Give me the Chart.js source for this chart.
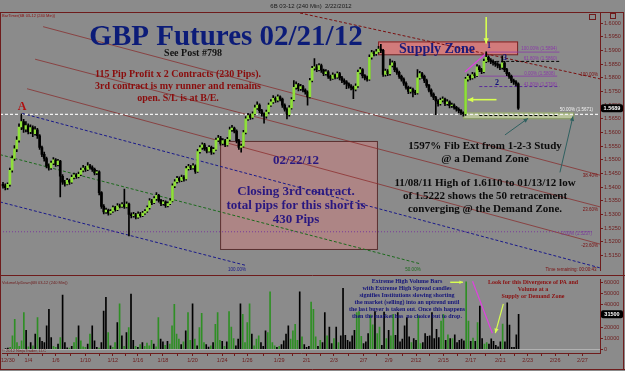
<!DOCTYPE html>
<html>
<head>
<meta charset="utf-8">
<script src="https://cdn.jsdelivr.net/npm/chart.js@4.4.0/dist/chart.umd.min.js"></script>
<style>
  html, body { margin: 0; padding: 0; background: #8b8b8b; }
  #wrap { position: relative; width: 625px; height: 371px; overflow: hidden; background: #8b8b8b; }
  #priceCanvas { position: absolute; left: 0; top: 0; }
  #volCanvas { position: absolute; left: 0; top: 275px; }
</style>
</head>
<body>
<div id="wrap">
  <canvas id="priceCanvas" width="625" height="275"></canvas>
  <canvas id="volCanvas" width="625" height="96"></canvas>
</div>
<script>
// 6B 03-12, 240 min bars, 12/30/2011 - 2/22/2012
const opens = [
  1.5410, 1.5405, 1.5398, 1.5410, 1.5462, 1.5505, 1.5540, 1.5572, 1.5620, 1.5640,
  1.5612, 1.5625, 1.5603, 1.5618, 1.5596, 1.5610, 1.5588, 1.5545, 1.5520, 1.5505,
  1.5478, 1.5470, 1.5488, 1.5500, 1.5482, 1.5495, 1.5440, 1.5418, 1.5412, 1.5425,
  1.5418, 1.5436, 1.5445, 1.5438, 1.5447, 1.5462, 1.5470, 1.5465, 1.5478, 1.5472,
  1.5465, 1.5452, 1.5456, 1.5380, 1.5330, 1.5310, 1.5316, 1.5305, 1.5312, 1.5325,
  1.5318, 1.5332, 1.5330, 1.5336, 1.5328, 1.5338, 1.5300, 1.5296, 1.5300, 1.5290,
  1.5302, 1.5296, 1.5305, 1.5312, 1.5325, 1.5350, 1.5343, 1.5358, 1.5370, 1.5352,
  1.5340, 1.5346, 1.5332, 1.5340, 1.5350, 1.5405, 1.5420, 1.5432, 1.5425, 1.5436,
  1.5430, 1.5468, 1.5475, 1.5470, 1.5478, 1.5458, 1.5530, 1.5545, 1.5555, 1.5540,
  1.5532, 1.5546, 1.5528, 1.5538, 1.5572, 1.5580, 1.5560, 1.5570, 1.5555, 1.5575,
  1.5610, 1.5616, 1.5605, 1.5570, 1.5545, 1.5550, 1.5600, 1.5650, 1.5662, 1.5655,
  1.5668, 1.5690, 1.5700, 1.5680, 1.5668, 1.5660, 1.5675, 1.5700, 1.5712, 1.5725,
  1.5718, 1.5730, 1.5722, 1.5700, 1.5685, 1.5665, 1.5690, 1.5720, 1.5765, 1.5775,
  1.5760, 1.5768, 1.5755, 1.5748, 1.5730, 1.5790, 1.5835, 1.5840, 1.5830, 1.5845,
  1.5828, 1.5815, 1.5822, 1.5805, 1.5798, 1.5810, 1.5802, 1.5815, 1.5800, 1.5790,
  1.5785, 1.5778, 1.5770, 1.5765, 1.5758, 1.5770, 1.5820, 1.5830, 1.5808, 1.5800,
  1.5795, 1.5875, 1.5892, 1.5888, 1.5895, 1.5905, 1.5900, 1.5812, 1.5825, 1.5815,
  1.5845, 1.5855, 1.5830, 1.5820, 1.5805, 1.5795, 1.5780, 1.5765, 1.5750, 1.5758,
  1.5748, 1.5745, 1.5800, 1.5815, 1.5805, 1.5790, 1.5772, 1.5755, 1.5740, 1.5728,
  1.5715, 1.5705, 1.5718, 1.5722, 1.5705, 1.5712, 1.5698, 1.5700, 1.5692, 1.5685,
  1.5680, 1.5672, 1.5668, 1.5795, 1.5805, 1.5800, 1.5812, 1.5808, 1.5840, 1.5830,
  1.5822, 1.5860, 1.5875, 1.5865, 1.5860, 1.5855, 1.5850, 1.5845, 1.5838, 1.5855,
  1.5830, 1.5815, 1.5805, 1.5790, 1.5785, 1.5778
];
const highs = [
  1.5418, 1.5412, 1.5416, 1.5470, 1.5515, 1.5552, 1.5585, 1.5632, 1.5668, 1.5648,
  1.5640, 1.5632, 1.5628, 1.5624, 1.5622, 1.5615, 1.5592, 1.5550, 1.5528, 1.5510,
  1.5485, 1.5495, 1.5508, 1.5505, 1.5502, 1.5498, 1.5446, 1.5425, 1.5432, 1.5430,
  1.5444, 1.5452, 1.5450, 1.5455, 1.5470, 1.5480, 1.5476, 1.5490, 1.5484, 1.5478,
  1.5470, 1.5462, 1.5460, 1.5384, 1.5336, 1.5324, 1.5320, 1.5318, 1.5332, 1.5330,
  1.5340, 1.5338, 1.5344, 1.5393, 1.5346, 1.5342, 1.5306, 1.5308, 1.5304, 1.5310,
  1.5308, 1.5312, 1.5318, 1.5332, 1.5358, 1.5356, 1.5366, 1.5380, 1.5374, 1.5356,
  1.5352, 1.5350, 1.5346, 1.5358, 1.5412, 1.5428, 1.5440, 1.5438, 1.5444, 1.5442,
  1.5476, 1.5484, 1.5480, 1.5486, 1.5482, 1.5538, 1.5552, 1.5562, 1.5560, 1.5546,
  1.5552, 1.5550, 1.5545, 1.5580, 1.5590, 1.5586, 1.5578, 1.5575, 1.5582, 1.5620,
  1.5626, 1.5620, 1.5610, 1.5575, 1.5558, 1.5608, 1.5658, 1.5670, 1.5668, 1.5676,
  1.5700, 1.5712, 1.5705, 1.5685, 1.5672, 1.5682, 1.5708, 1.5720, 1.5735, 1.5730,
  1.5738, 1.5734, 1.5726, 1.5705, 1.5690, 1.5698, 1.5728, 1.5790, 1.5785, 1.5780,
  1.5776, 1.5772, 1.5760, 1.5752, 1.5798, 1.5842, 1.5870, 1.5848, 1.5852, 1.5850,
  1.5832, 1.5830, 1.5826, 1.5810, 1.5818, 1.5814, 1.5822, 1.5820, 1.5805, 1.5796,
  1.5790, 1.5782, 1.5775, 1.5770, 1.5778, 1.5828, 1.5838, 1.5834, 1.5812, 1.5806,
  1.5884, 1.5900, 1.5898, 1.5904, 1.5915, 1.5922, 1.5904, 1.5832, 1.5830, 1.5868,
  1.5862, 1.5860, 1.5836, 1.5825, 1.5810, 1.5800, 1.5785, 1.5770, 1.5766, 1.5762,
  1.5754, 1.5830, 1.5824, 1.5820, 1.5810, 1.5795, 1.5776, 1.5760, 1.5745, 1.5732,
  1.5720, 1.5726, 1.5730, 1.5726, 1.5720, 1.5716, 1.5708, 1.5705, 1.5696, 1.5690,
  1.5684, 1.5676, 1.5802, 1.5814, 1.5810, 1.5820, 1.5818, 1.5848, 1.5845, 1.5835,
  1.5868, 1.5895, 1.5880, 1.5870, 1.5866, 1.5860, 1.5856, 1.5850, 1.5880, 1.5860,
  1.5835, 1.5820, 1.5810, 1.5795, 1.5790, 1.5782
];
const lows = [
  1.5396, 1.5390, 1.5392, 1.5404, 1.5455, 1.5498, 1.5530, 1.5565, 1.5610, 1.5600,
  1.5602, 1.5595, 1.5596, 1.5585, 1.5590, 1.5578, 1.5538, 1.5512, 1.5495, 1.5470,
  1.5462, 1.5465, 1.5482, 1.5476, 1.5478, 1.5364, 1.5410, 1.5404, 1.5408, 1.5410,
  1.5414, 1.5430, 1.5432, 1.5434, 1.5442, 1.5456, 1.5458, 1.5460, 1.5466, 1.5458,
  1.5445, 1.5446, 1.5372, 1.5322, 1.5302, 1.5304, 1.5298, 1.5300, 1.5308, 1.5312,
  1.5314, 1.5324, 1.5326, 1.5322, 1.5324, 1.5222, 1.5288, 1.5290, 1.5284, 1.5286,
  1.5290, 1.5292, 1.5300, 1.5308, 1.5320, 1.5336, 1.5340, 1.5352, 1.5345, 1.5332,
  1.5334, 1.5326, 1.5328, 1.5336, 1.5346, 1.5398, 1.5415, 1.5418, 1.5420, 1.5422,
  1.5426, 1.5462, 1.5464, 1.5466, 1.5450, 1.5454, 1.5524, 1.5538, 1.5534, 1.5525,
  1.5528, 1.5520, 1.5522, 1.5534, 1.5566, 1.5554, 1.5555, 1.5548, 1.5550, 1.5570,
  1.5604, 1.5598, 1.5562, 1.5538, 1.5528, 1.5546, 1.5595, 1.5644, 1.5648, 1.5650,
  1.5664, 1.5684, 1.5672, 1.5660, 1.5634, 1.5652, 1.5670, 1.5695, 1.5706, 1.5710,
  1.5712, 1.5715, 1.5692, 1.5678, 1.5650, 1.5660, 1.5685, 1.5715, 1.5758, 1.5752,
  1.5754, 1.5748, 1.5740, 1.5700, 1.5726, 1.5785, 1.5828, 1.5822, 1.5825, 1.5820,
  1.5808, 1.5810, 1.5798, 1.5790, 1.5794, 1.5796, 1.5798, 1.5792, 1.5782, 1.5776,
  1.5760, 1.5762, 1.5756, 1.5724, 1.5752, 1.5765, 1.5814, 1.5800, 1.5792, 1.5788,
  1.5790, 1.5868, 1.5880, 1.5882, 1.5890, 1.5892, 1.5805, 1.5806, 1.5808, 1.5810,
  1.5840, 1.5822, 1.5812, 1.5798, 1.5788, 1.5772, 1.5758, 1.5742, 1.5744, 1.5730,
  1.5738, 1.5740, 1.5795, 1.5798, 1.5782, 1.5765, 1.5748, 1.5732, 1.5720, 1.5665,
  1.5696, 1.5700, 1.5712, 1.5698, 1.5700, 1.5690, 1.5692, 1.5685, 1.5678, 1.5672,
  1.5665, 1.5660, 1.5662, 1.5788, 1.5792, 1.5795, 1.5800, 1.5804, 1.5822, 1.5815,
  1.5818, 1.5855, 1.5858, 1.5852, 1.5846, 1.5842, 1.5836, 1.5830, 1.5832, 1.5822,
  1.5808, 1.5798, 1.5782, 1.5776, 1.5770, 1.5684
];
const closes = [
  1.5405, 1.5398, 1.5410, 1.5462, 1.5505, 1.5540, 1.5572, 1.5620, 1.5640, 1.5612,
  1.5625, 1.5603, 1.5618, 1.5596, 1.5610, 1.5588, 1.5545, 1.5520, 1.5505, 1.5478,
  1.5470, 1.5488, 1.5500, 1.5482, 1.5495, 1.5440, 1.5418, 1.5412, 1.5425, 1.5418,
  1.5436, 1.5445, 1.5438, 1.5447, 1.5462, 1.5470, 1.5465, 1.5478, 1.5472, 1.5465,
  1.5452, 1.5456, 1.5380, 1.5330, 1.5310, 1.5316, 1.5305, 1.5312, 1.5325, 1.5318,
  1.5332, 1.5330, 1.5336, 1.5328, 1.5338, 1.5300, 1.5296, 1.5300, 1.5290, 1.5302,
  1.5296, 1.5305, 1.5312, 1.5325, 1.5350, 1.5343, 1.5358, 1.5370, 1.5352, 1.5340,
  1.5346, 1.5332, 1.5340, 1.5350, 1.5405, 1.5420, 1.5432, 1.5425, 1.5436, 1.5430,
  1.5468, 1.5475, 1.5470, 1.5478, 1.5458, 1.5530, 1.5545, 1.5555, 1.5540, 1.5532,
  1.5546, 1.5528, 1.5538, 1.5572, 1.5580, 1.5560, 1.5570, 1.5555, 1.5575, 1.5610,
  1.5616, 1.5605, 1.5570, 1.5545, 1.5550, 1.5600, 1.5650, 1.5662, 1.5655, 1.5668,
  1.5690, 1.5700, 1.5680, 1.5668, 1.5660, 1.5675, 1.5700, 1.5712, 1.5725, 1.5718,
  1.5730, 1.5722, 1.5700, 1.5685, 1.5665, 1.5690, 1.5720, 1.5765, 1.5775, 1.5760,
  1.5768, 1.5755, 1.5748, 1.5730, 1.5790, 1.5835, 1.5840, 1.5830, 1.5845, 1.5828,
  1.5815, 1.5822, 1.5805, 1.5798, 1.5810, 1.5802, 1.5815, 1.5800, 1.5790, 1.5785,
  1.5778, 1.5770, 1.5765, 1.5758, 1.5770, 1.5820, 1.5830, 1.5808, 1.5800, 1.5795,
  1.5875, 1.5892, 1.5888, 1.5895, 1.5905, 1.5900, 1.5812, 1.5825, 1.5815, 1.5845,
  1.5855, 1.5830, 1.5820, 1.5805, 1.5795, 1.5780, 1.5765, 1.5750, 1.5758, 1.5748,
  1.5745, 1.5800, 1.5815, 1.5805, 1.5790, 1.5772, 1.5755, 1.5740, 1.5728, 1.5715,
  1.5705, 1.5718, 1.5722, 1.5705, 1.5712, 1.5698, 1.5700, 1.5692, 1.5685, 1.5680,
  1.5672, 1.5668, 1.5795, 1.5805, 1.5800, 1.5812, 1.5808, 1.5840, 1.5830, 1.5822,
  1.5860, 1.5875, 1.5865, 1.5860, 1.5855, 1.5850, 1.5845, 1.5838, 1.5855, 1.5830,
  1.5815, 1.5805, 1.5790, 1.5785, 1.5778, 1.5689
];
const volumes = [
  400, 900, 1500, 12000, 27000, 6000, 2500, 7500, 33000, 17000,
  2000, 6000, 3000, 13500, 28500, 10500, 7000, 6000, 21000, 36000,
  10500, 2500, 1500, 4500, 10500, 49000, 6000, 1200, 800, 2500,
  6000, 10500, 21000, 7500, 2000, 1500, 4500, 13500, 21000, 7500,
  1500, 1000, 6000, 34500, 47000, 15000, 3000, 1500, 6000, 24000,
  41000, 12000, 2500, 15000, 19500, 50000, 8000, 2500, 1500, 4000,
  6000, 2500, 5500, 3000, 8000, 4500, 2000, 28500, 9000, 6500,
  3500, 7000, 4500, 21000, 40500, 13500, 9000, 4000, 6500, 16500,
  33000, 8000, 41000, 9000, 3000, 19500, 32400, 6000, 4000, 1800,
  3000, 6000, 22500, 33000, 8000, 7000, 2500, 6500, 34000, 20000,
  9500, 3000, 9000, 41000, 31500, 6000, 24000, 41000, 13500, 3000,
  9000, 12000, 6000, 2500, 16500, 15000, 52000, 6000, 3000, 1500,
  2500, 4000, 7500, 13500, 21000, 9000, 16500, 22500, 8000, 52000,
  11000, 4000, 1500, 2500, 42600, 36000, 11000, 2500, 8000, 6000,
  33000, 12000, 20000, 5000, 9500, 20000, 6000, 12000, 55000, 12500,
  8000, 6500, 12000, 17000, 33000, 34000, 11500, 5000, 6500, 14000,
  31000, 22000, 34000, 14000, 20000, 3500, 33500, 9500, 17000, 12000,
  31500, 12500, 33000, 6500, 9000, 21000, 28500, 11000, 6000, 9500,
  8000, 30000, 5000, 6000, 14000, 11500, 12000, 33000, 9500, 18000,
  10500, 25500, 31500, 8000, 13000, 9500, 9500, 13000, 6000, 8000,
  9000, 7500, 61000, 25500, 7000, 10000, 7000, 24000, 39000, 9500,
  4500, 6000, 4500, 9400, 7000, 3500, 2000, 6500, 22600, 6500,
  42000, 21800, 1500, 1500, 13000, 31500
];
// date labels on the time axis and the bar they sit under
const dateLabels = ['12/30', '1/4', '1/6', '1/10', '1/12', '1/16', '1/18', '1/20', '1/24', '1/26', '1/29',
  '2/1', '2/3', '2/7', '2/9', '2/12', '2/15', '2/17', '2/21', '2/23', '2/26', '2/27'];
const dateBars = [1, 10, 22, 35, 47, 58, 69, 82, 95, 106, 120, 132, 144, 157, 168, 180, 192, 204, 217, 229, 241, 253];
const priceTicks = [1.6000, 1.5950, 1.5900, 1.5850, 1.5800, 1.5750, 1.5700, 1.5650, 1.5600, 1.5550,
  1.5500, 1.5450, 1.5400, 1.5350, 1.5300, 1.5250, 1.5200, 1.5150];
const volumeTicks = [0, 10000, 20000, 30000, 40000, 50000, 60000];

const BG = '#8b8b8b';
const AXIS = '#6e1c1c';
const SERIF = '"Liberation Serif", "Times New Roman", serif';
const SANS = '"Liberation Sans", Arial, sans-serif';
const X_MIN = -1.31, X_MAX = 260.7;

// studies drawn on the price panel, in bar / price units
const trendLines = [
  { a: [129.7, 1.6037], b: [260.7, 1.5796], color: '#7a1010', w: 1, dash: [3, 2] },
  { a: [17.5, 1.5987], b: [260.7, 1.5444], color: '#882424', w: 0.7 },
  { a: [14.0, 1.5868], b: [260.7, 1.5328], color: '#882424', w: 0.7 },
  { a: [10.5, 1.5760], b: [260.7, 1.5192], color: '#882424', w: 0.7 },
  { a: [8.3, 1.5670], b: [260.7, 1.5105], color: '#1a1a8a', w: 1, dash: [3, 2] },
  { a: [-1.31, 1.5346], b: [106.5, 1.5113], color: '#1a1a8a', w: 1, dash: [3, 2] },
  { a: [-1.31, 1.5519], b: [182.1, 1.5120], color: '#1c6a1c', w: 1, dash: [3, 2] },
  { a: [-1.31, 1.5237], b: [258, 1.5237], color: '#7a3a9a', w: 1, dash: [1, 2] },
  { a: [-1.31, 1.5666], b: [260.7, 1.5666], color: '#f2f2f2', w: 1.2, dash: [3, 2] },
  { a: [211, 1.5894], b: [243, 1.5894], color: '#8a3aa8', w: 0.8 },
  { a: [211, 1.5860], b: [243, 1.5860], color: '#000000', w: 1, dash: [3, 2] },
  { a: [208, 1.5806], b: [242, 1.5806], color: '#8a3aa8', w: 0.8 },
  { a: [208, 1.5768], b: [243, 1.5768], color: '#5a2a9a', w: 1, dash: [3, 2] },
  { a: [208, 1.5662], b: [242, 1.5662], color: '#000000', w: 1, dash: [3, 2] },
  { a: [201.7, 1.5821], b: [210.5, 1.5886], color: '#e040e0', w: 1.2 }
];
const zones = [
  { a: [94.8, 1.5569], b: [163.3, 1.5174], fill: 'rgba(214,126,126,0.45)', line: '#5a3030' },
  { a: [163.8, 1.5933], b: [224.5, 1.5886], fill: 'rgba(222,120,120,0.85)', line: '#7a2020' },
  { a: [201, 1.5673], b: [249, 1.5652], fill: 'rgba(200,214,160,0.75)', line: '#8aa060' }
];
const arrows = [
  { a: [211, 1.6022], b: [211, 1.5925], color: '#d8ff50', w: 1.6, head: 6 },
  { a: [215.5, 1.5720], b: [203, 1.5720], color: '#d8ff50', w: 1.6, head: 6 },
  { a: [219.2, 1.5591], b: [229.3, 1.5652], color: '#2f6060', w: 1, head: 5 },
  { a: [243.2, 1.5454], b: [248.9, 1.5659], color: '#2f6060', w: 1, head: 5 }
];

function line(c, x0, y0, x1, y1, color, w, dash) {
  c.save();
  c.strokeStyle = color; c.lineWidth = w; c.setLineDash(dash || []);
  c.beginPath(); c.moveTo(x0, y0); c.lineTo(x1, y1); c.stroke();
  c.restore();
}
function arrow(c, x0, y0, x1, y1, color, w, head) {
  line(c, x0, y0, x1, y1, color, w);
  const ang = Math.atan2(y1 - y0, x1 - x0);
  c.save(); c.fillStyle = color;
  c.beginPath(); c.moveTo(x1, y1);
  c.lineTo(x1 - head * Math.cos(ang - 0.45), y1 - head * Math.sin(ang - 0.45));
  c.lineTo(x1 - head * Math.cos(ang + 0.45), y1 - head * Math.sin(ang + 0.45));
  c.closePath(); c.fill(); c.restore();
}
function text(c, s, x, y, font, color, align) {
  c.save();
  c.font = font; c.fillStyle = color; c.textAlign = align || 'center'; c.textBaseline = 'middle';
  c.fillText(s, x, y);
  c.restore();
}
function block(c, lines, cx, y0, lh, font, color) {
  lines.forEach((s, k) => text(c, s, cx, y0 + k * lh, font, color));
}

const priceNotes = {
  id: 'priceNotes',
  beforeDraw(chart) {
    const c = chart.ctx;
    c.save(); c.fillStyle = BG; c.fillRect(0, 0, chart.width, chart.height); c.restore();
  },
  beforeDatasetsDraw(chart) {
    const c = chart.ctx, ar = chart.chartArea;
    const X = v => chart.scales.x.getPixelForValue(v);
    const Y = v => chart.scales.y.getPixelForValue(v);
    c.save();
    c.beginPath(); c.rect(ar.left, ar.top, ar.right - ar.left, ar.bottom - ar.top); c.clip();
    zones.forEach(z => {
      const x0 = X(z.a[0]), y0 = Y(z.a[1]), x1 = X(z.b[0]), y1 = Y(z.b[1]);
      c.fillStyle = z.fill; c.fillRect(x0, y0, x1 - x0, y1 - y0);
      c.strokeStyle = z.line; c.lineWidth = 1; c.strokeRect(x0 + 0.5, y0 + 0.5, x1 - x0, y1 - y0);
    });
    trendLines.forEach(t => line(c, X(t.a[0]), Y(t.a[1]), X(t.b[0]), Y(t.b[1]), t.color, t.w, t.dash));
    c.restore();
  },
  afterDatasetsDraw(chart) {
    const c = chart.ctx;
    const X = v => chart.scales.x.getPixelForValue(v);
    const Y = v => chart.scales.y.getPixelForValue(v);
    arrows.forEach(a => arrow(c, X(a.a[0]), Y(a.a[1]), X(a.b[0]), Y(a.b[1]), a.color, a.w, a.head));

    text(c, 'GBP Futures 02/21/12', 226, 38, `bold 29px ${SERIF}`, '#0c1c78');
    text(c, 'See Post #798', 193, 53, `bold 10px ${SERIF}`, '#111111');
    block(c, ['115 Pip Profit x 2 Contracts (230 Pips).', '3rd contract is my runner and remains', 'open. S/L is at B/E.'],
      178, 74, 12, `bold 10px ${SERIF}`, '#8a0c0c');
    text(c, 'A', 22, 107, `bold 12px ${SERIF}`, '#b01010');
    text(c, '02/22/12', 296, 161, `bold 13px ${SERIF}`, '#2a1880');
    block(c, ['Closing 3rd contract.', 'total pips for this short is', '430 Pips'], 296, 192, 14, `bold 13px ${SERIF}`, '#2a1880');
    text(c, 'Supply Zone', 437, 49, `bold 14px ${SERIF}`, '#1a1a7a');
    block(c, ['1597% Fib Ext from 1-2-3 Study', '@ a Demand Zone'], 485, 146, 13, `bold 11px ${SERIF}`, '#0a0a0a');
    block(c, ['11/08/11 High of 1.6110 to 01/13/12 low', 'of 1.5222 shows the 50 retracement', 'converging @ the Demand Zone.'],
      485, 183, 13, `bold 11px ${SERIF}`, '#0a0a0a');
    text(c, '1', 489, 46, `bold 8px ${SERIF}`, '#10107a');
    text(c, '2', 497, 83, `bold 8px ${SERIF}`, '#10107a');
    text(c, '3', 505, 58, `bold 8px ${SERIF}`, '#10107a');

    const tiny = `4.5px ${SANS}`;
    text(c, '100.00% (1.5894)', 557, 49, tiny, '#8a3aa8', 'right');
    text(c, '61.80% (1.5860)', 557, 59, tiny, '#8a3aa8', 'right');
    text(c, '0.00% (1.5808)', 555, 74, tiny, '#8a3aa8', 'right');
    text(c, '41.80% (1.5768)', 557, 85, tiny, '#8a3aa8', 'right');
    text(c, '50.00% (1.5671)', 593, 110, tiny, '#f4f4f4', 'right');
    text(c, '100.00%', 598, 75, tiny, '#7a1010', 'right');
    text(c, '38.40%', 598, 176, tiny, '#7a1010', 'right');
    text(c, '23.60%', 598, 210, tiny, '#7a1010', 'right');
    text(c, '0.00% (1.5237)', 592, 234, tiny, '#7a3a9a', 'right');
    text(c, '-23.60%', 598, 246, tiny, '#7a1010', 'right');
    text(c, '100.00%', 237, 270, tiny, '#1a1a8a');
    text(c, '50.00%', 413, 270, tiny, '#1c6a1c');
    text(c, 'Time remaining: 00:00:43', 571, 270, tiny, '#7a1010');
  },
  afterDraw(chart) {
    const c = chart.ctx;
    text(c, '6B 03-12 (240 Min)  2/22/2012', 311, 6, `6px ${SANS}`, '#1a1a1a');
    text(c, 'BarTimer(6B 03-12 (240 Min))', 2, 16, `4px ${SANS}`, '#8a1010', 'left');
    c.save();
    c.strokeStyle = AXIS; c.lineWidth = 1;
    c.strokeRect(0.5, 12.5, 623, 300);
    c.strokeRect(589.5, 14.5, 6, 5);
    c.strokeRect(610.5, 13.5, 5, 5);
    c.restore();
    // last price tag on the axis
    const y = chart.scales.y.getPixelForValue(closes[closes.length - 1]);
    c.save();
    c.fillStyle = '#000'; c.beginPath();
    c.roundRect(601, y - 4, 22, 8, 2); c.fill();
    c.restore();
    text(c, closes[closes.length - 1].toFixed(4), 612, y, `bold 5.5px ${SANS}`, '#ffffff');
  }
};

const bodyColors = closes.map((v, i) => v >= opens[i] ? '#8fe03a' : '#000000');

new Chart(document.getElementById('priceCanvas'), {
  type: 'bar',
  data: {
    datasets: [
      {
        label: 'body',
        data: closes.map((v, i) => ({ x: i, y: [opens[i], v] })),
        backgroundColor: bodyColors,
        barThickness: 2, grouped: false, order: 0
      },
      {
        label: 'wick',
        data: highs.map((v, i) => ({ x: i, y: [lows[i], v] })),
        backgroundColor: '#000000',
        barThickness: 1, grouped: false, order: 1
      }
    ]
  },
  options: {
    responsive: false, animation: false, devicePixelRatio: 1,
    layout: { padding: { top: 12, left: 0, right: 0, bottom: 0 } },
    plugins: { legend: { display: false }, tooltip: { enabled: false } },
    scales: {
      x: { type: 'linear', min: X_MIN, max: X_MAX, offset: false, display: false },
      y: {
        position: 'right', min: 1.50946, max: 1.60406,
        afterBuildTicks(s) { s.ticks = priceTicks.map(v => ({ value: v })); },
        afterFit(s) { s.width = 25; },
        ticks: { callback: v => Number(v).toFixed(4), font: { size: 5.5, family: 'Arial' }, color: AXIS, padding: 1 },
        grid: { drawOnChartArea: false, drawTicks: true, tickLength: 3, color: AXIS },
        border: { display: true, color: AXIS }
      }
    }
  },
  plugins: [priceNotes]
});

const volNotes = {
  id: 'volNotes',
  beforeDraw(chart) {
    const c = chart.ctx;
    c.save(); c.fillStyle = BG; c.fillRect(0, 0, chart.width, chart.height); c.restore();
  },
  beforeDatasetsDraw(chart) {
    const c = chart.ctx, ar = chart.chartArea;
    const y0 = chart.scales.y.getPixelForValue(0);
    line(c, ar.left, y0 + 0.5, ar.right, y0 + 0.5, '#b4b4b4', 1);
  },
  afterDatasetsDraw(chart) {
    const c = chart.ctx;
    const X = v => chart.scales.x.getPixelForValue(v);
    const Y = v => chart.scales.y.getPixelForValue(v);
    line(c, X(204.8), Y(61500), X(213.5), Y(14300), '#e040e0', 1.2);
    arrow(c, X(195), Y(60600), X(200.6), Y(60600), '#d8ff50', 1.4, 4);
    arrow(c, X(218.3), Y(41000), X(214.8), Y(14500), '#d8ff50', 1.2, 5);
    block(c, ['Extreme High Volume Bars', 'with Extreme High Spread candles', 'signifies Institutions slowing shorting',
      'the market (selling) into an uptrend until', 'the last buyer is taken out. Once this happens',
      'then the market has  no choice but to drop.'], 407, 6, 7, `bold 6px ${SERIF}`, '#14147a');
    block(c, ['Look for this Divergence of PA and', 'Volume at a', 'Supply or Demand Zone'], 533, 7, 7, `bold 6px ${SERIF}`, '#8a1010');
    text(c, 'VolumeUpDown(6B 03-12 (240 Min))', 2, 8, `4px ${SANS}`, '#6e1c1c', 'left');
    text(c, '\u00a9 2012 NinjaTrader, LLC', 2, 76, `4px ${SANS}`, '#6e1c1c', 'left');
  },
  afterDraw(chart) {
    const c = chart.ctx;
    c.save();
    c.strokeStyle = AXIS; c.lineWidth = 1;
    line(c, 0, 0.5, 625, 0.5, AXIS, 1);
    line(c, 0.5, 0, 0.5, 94, AXIS, 1);
    line(c, 623.5, 0, 623.5, 94, AXIS, 1);
    line(c, 0, 94.5, 625, 94.5, AXIS, 1);
    c.restore();
    const last = volumes[volumes.length - 1];
    const y = chart.scales.y.getPixelForValue(last);
    c.save(); c.fillStyle = '#000'; c.beginPath(); c.roundRect(601, y - 4, 22, 8, 2); c.fill(); c.restore();
    text(c, String(last), 612, y, `bold 5.5px ${SANS}`, '#ffffff');
  }
};

const volColors = closes.map((v, i) => v >= opens[i] ? '#2f8f25' : '#000000');
const minorBars = dateBars.slice(0, -1).map((b, k) => (b + dateBars[k + 1]) / 2);

new Chart(document.getElementById('volCanvas'), {
  type: 'bar',
  data: {
    datasets: [{
      label: 'volume',
      data: volumes.map((v, i) => ({ x: i, y: v })),
      backgroundColor: volColors,
      barThickness: 1
    }]
  },
  options: {
    responsive: false, animation: false, devicePixelRatio: 1,
    layout: { padding: { top: 3, left: 0, right: 0, bottom: 0 } },
    plugins: { legend: { display: false }, tooltip: { enabled: false } },
    scales: {
      x: {
        type: 'linear', min: X_MIN, max: X_MAX, offset: false,
        afterBuildTicks(s) {
          s.ticks = dateBars.map(v => ({ value: v })).concat(minorBars.map(v => ({ value: v })));
        },
        afterFit(s) { s.height = 18; },
        ticks: {
          autoSkip: false, maxRotation: 0, padding: 1,
          callback: v => { const k = dateBars.indexOf(v); return k >= 0 ? dateLabels[k] : ''; },
          font: { size: 5.5, family: 'Arial' }, color: AXIS
        },
        grid: { drawOnChartArea: false, drawTicks: true, tickLength: 3, color: AXIS, offset: false },
        border: { display: true, color: AXIS }
      },
      y: {
        position: 'right', min: -3566, max: 63300,
        afterBuildTicks(s) { s.ticks = volumeTicks.map(v => ({ value: v })); },
        afterFit(s) { s.width = 25; },
        ticks: { callback: v => String(v), font: { size: 5.5, family: 'Arial' }, color: AXIS, padding: 1 },
        grid: { drawOnChartArea: false, drawTicks: true, tickLength: 3, color: AXIS },
        border: { display: true, color: AXIS }
      }
    }
  },
  plugins: [volNotes]
});
</script>
</body>
</html>
